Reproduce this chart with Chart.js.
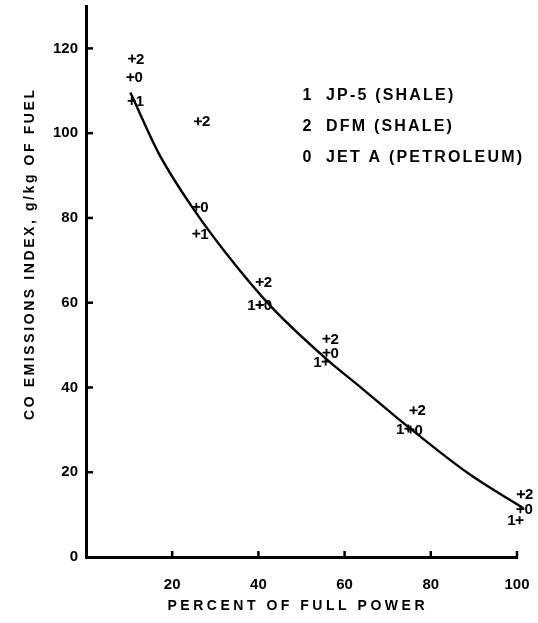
<!DOCTYPE html>
<html>
<head>
<meta charset="utf-8">
<script src="https://cdn.jsdelivr.net/npm/chart.js@4.4.0/dist/chart.umd.min.js"></script>
<style>
  html, body { margin: 0; padding: 0; background: #fff; }
  #wrap { width: 538px; height: 623px; }
</style>
</head>
<body>
<div id="wrap"><canvas id="chart"></canvas></div>
<script>
// fuel codes used as point labels, and their names for the key
const fuelCodes = ['1', '2', '0'];
const fuelNames = ['JP-5 (SHALE)', 'DFM (SHALE)', 'JET A (PETROLEUM)'];

// percent of full power vs CO emissions index (g/kg of fuel)
const jp5Power = [10.6, 25.6, 40.3, 55.6, 74.8, 100.6];
const jp5CO = [107.6, 76.3, 59.5, 46.1, 30.3, 8.7];
const jp5LabelSide = ['right', 'right', 'left', 'left', 'left', 'left'];

const dfmPower = [10.7, 26.0, 40.3, 55.8, 76.0, 100.9];
const dfmCO = [117.6, 102.8, 64.9, 51.5, 34.6, 14.8];

const jetAPower = [10.3, 25.6, 40.3, 55.8, 75.3, 100.8];
const jetACO = [113.2, 82.6, 59.5, 48.2, 30.1, 11.3];

// faired curve through the data
const curvePower = [10.3, 17, 25, 33, 43, 56, 64, 75, 89, 101.5];
const curveCO = [109.6, 95, 82, 71, 59, 46.5, 39.8, 30.5, 19.5, 11.5];

const xTicks = [20, 40, 60, 80, 100];
const yTicks = [0, 20, 40, 60, 80, 100, 120];

const xTitle = 'PERCENT OF FULL POWER';
const yTitle = 'CO EMISSIONS INDEX, g/kg OF FUEL';

const INK = '#000';
const FONT = '"Liberation Sans", Arial, sans-serif';

const toPts = (xs, ys) => xs.map((x, i) => ({ x: x, y: ys[i] }));

const pointSet = (code, xs, ys, sides) => ({
  type: 'scatter',
  label: code,
  data: toPts(xs, ys),
  sides: sides || xs.map(() => 'right'),
  pointStyle: 'cross',
  pointRadius: 4,
  pointBorderWidth: 1.8,
  borderColor: INK,
  backgroundColor: INK,
  showLine: false,
  clip: false,
});

// letter spacing that stretches text to a given width
function spacingFor(ctx, text, width) {
  ctx.letterSpacing = '0px';
  const w = ctx.measureText(text).width;
  return Math.max(0, (width - w) / (text.length - 1));
}

function spacedText(ctx, text, x, y, width) {
  const sp = spacingFor(ctx, text, width);
  ctx.letterSpacing = sp + 'px';
  ctx.fillText(text, x + sp / 2, y);
  ctx.letterSpacing = '0px';
}

const decorations = {
  id: 'decorations',
  afterDatasetsDraw(chart) {
    const { ctx, chartArea: a, scales } = chart;
    ctx.save();
    ctx.strokeStyle = INK;
    ctx.fillStyle = INK;

    // inward tick marks
    ctx.lineWidth = 2.5;
    yTicks.forEach(v => {
      if (v === 0) return;
      const py = scales.y.getPixelForValue(v);
      ctx.beginPath();
      ctx.moveTo(a.left, py);
      ctx.lineTo(a.left + 7, py);
      ctx.stroke();
    });
    xTicks.forEach(v => {
      const px = scales.x.getPixelForValue(v);
      ctx.beginPath();
      ctx.moveTo(px, a.bottom);
      ctx.lineTo(px, a.bottom - 6);
      ctx.stroke();
    });

    // fuel code next to each point
    ctx.font = 'bold 15px ' + FONT;
    ctx.textBaseline = 'middle';
    chart.data.datasets.forEach((ds, di) => {
      if (!ds.sides) return;
      chart.getDatasetMeta(di).data.forEach((el, i) => {
        if (ds.sides[i] === 'left') {
          ctx.textAlign = 'right';
          ctx.fillText(ds.label, el.x - 4, el.y + 1);
        } else {
          ctx.textAlign = 'left';
          ctx.fillText(ds.label, el.x + 4, el.y + 1);
        }
      });
    });

    // key, spaced so the longest name spans 196px
    ctx.font = 'bold 16px ' + FONT;
    const keySp = spacingFor(ctx, fuelNames[2], 196);
    fuelCodes.forEach((code, r) => {
      const ky = 96 + r * 31;
      ctx.textAlign = 'center';
      ctx.fillText(code, 307, ky);
      ctx.textAlign = 'left';
      ctx.letterSpacing = keySp + 'px';
      ctx.fillText(fuelNames[r], 326, ky);
      ctx.letterSpacing = '0px';
    });

    // axis titles
    ctx.font = 'bold 14px ' + FONT;
    ctx.textAlign = 'center';
    spacedText(ctx, xTitle, 296, 606, 257);
    ctx.translate(30, 255);
    ctx.rotate(-Math.PI / 2);
    spacedText(ctx, yTitle, 0, 0, 330);
    ctx.restore();
  }
};

new Chart(document.getElementById('chart'), {
  data: {
    datasets: [
      {
        type: 'line',
        label: 'curve',
        data: toPts(curvePower, curveCO),
        borderColor: INK,
        borderWidth: 2.4,
        pointRadius: 0,
        cubicInterpolationMode: 'monotone',
        fill: false,
        clip: false,
      },
      pointSet(fuelCodes[0], jp5Power, jp5CO, jp5LabelSide),
      pointSet(fuelCodes[1], dfmPower, dfmCO),
      pointSet(fuelCodes[2], jetAPower, jetACO),
    ]
  },
  options: {
    responsive: true,
    maintainAspectRatio: false,
    animation: false,
    layout: { padding: { top: 6, right: 21, left: 0, bottom: 0 } },
    plugins: {
      legend: { display: false },
      tooltip: { enabled: false },
    },
    scales: {
      x: {
        type: 'linear',
        min: 0,
        max: 100,
        afterBuildTicks: s => { s.ticks = xTicks.map(v => ({ value: v })); },
        afterFit: s => { s.height = 66; s.paddingLeft = 0; s.paddingRight = 0; },
        grid: { display: false, drawTicks: false },
        border: { display: true, color: INK, width: 3 },
        ticks: { color: INK, padding: 19, font: { family: FONT, size: 15, weight: 'bold' } },
      },
      y: {
        type: 'linear',
        min: 0,
        max: 130,
        afterBuildTicks: s => { s.ticks = yTicks.map(v => ({ value: v })); },
        afterFit: s => { s.width = 86; s.paddingTop = 0; s.paddingBottom = 0; },
        grid: { display: false, drawTicks: false },
        border: { display: true, color: INK, width: 3 },
        ticks: { color: INK, padding: 8, font: { family: FONT, size: 15, weight: 'bold' } },
      }
    }
  },
  plugins: [decorations]
});
</script>
</body>
</html>
